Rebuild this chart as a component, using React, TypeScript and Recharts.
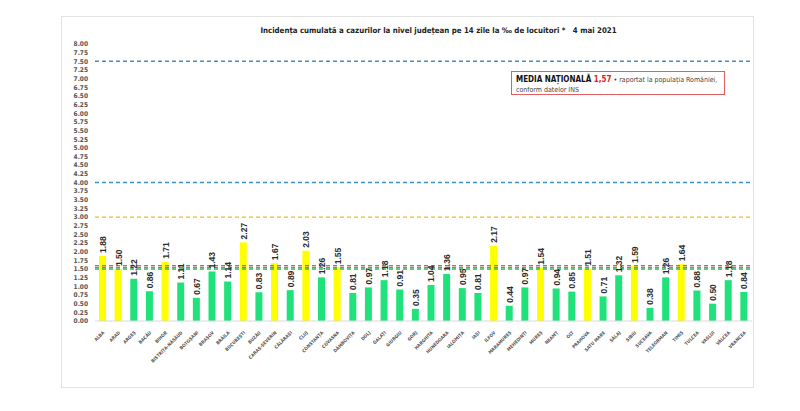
import React from "react";
import {
  BarChart,
  Bar,
  XAxis,
  YAxis,
  Cell,
  LabelList,
  ReferenceLine,
} from "recharts";

const counties = [
  "ALBA", "ARAD", "ARGEȘ", "BACĂU", "BIHOR", "BISTRIȚA-NĂSĂUD", "BOTOȘANI",
  "BRAȘOV", "BRĂILA", "BUCUREȘTI", "BUZĂU", "CARAȘ-SEVERIN", "CĂLĂRAȘI", "CLUJ",
  "CONSTANȚA", "COVASNA", "DÂMBOVIȚA", "DOLJ", "GALAȚI", "GIURGIU", "GORJ",
  "HARGHITA", "HUNEDOARA", "IALOMIȚA", "IAȘI", "ILFOV", "MARAMUREȘ", "MEHEDINȚI",
  "MUREȘ", "NEAMȚ", "OLT", "PRAHOVA", "SATU MARE", "SĂLAJ", "SIBIU", "SUCEAVA",
  "TELEORMAN", "TIMIȘ", "TULCEA", "VASLUI", "VÂLCEA", "VRANCEA",
];

const incidence = [
  1.88, 1.5, 1.22, 0.86, 1.71, 1.11, 0.67, 1.43, 1.14, 2.27, 0.83, 1.67, 0.89,
  2.03, 1.26, 1.55, 0.81, 0.97, 1.18, 0.91, 0.35, 1.04, 1.36, 0.95, 0.81, 2.17,
  0.44, 0.97, 1.54, 0.94, 0.85, 1.51, 0.71, 1.32, 1.59, 0.38, 1.26, 1.64, 0.88,
  0.5, 1.18, 0.84,
];

const yTicks = Array.from({ length: 33 }, (_, i) => i * 0.25);

const thresholds = [
  { y: 7.5, color: "#3f8fc6" },
  { y: 4.0, color: "#3f8fc6" },
  { y: 3.0, color: "#f5b62e" },
  { y: 1.6, color: "#e05a5a" },
  { y: 1.55, color: "#888888" },
  { y: 1.5, color: "#2fb84e" },
];

const YELLOW = "#ffff00";
const GREEN = "#1fe27a";
const FONT = '"Liberation Sans Narrow", "DejaVu Sans Condensed", "Liberation Sans", sans-serif';

const data = counties.map((name, i) => ({ name, value: incidence[i] }));

const CountyTick = (props: any) => {
  const { x, y, payload } = props;
  return (
    <text
      x={x + 2}
      y={y + 4}
      transform={`rotate(-45, ${x + 2}, ${y + 4})`}
      textAnchor="end"
      fontSize={4.6}
      fontWeight={700}
      fill="#555"
      fontFamily={FONT}
    >
      {payload.value}
    </text>
  );
};

const ValueLabel = (props: any) => {
  const { x, y, width, value } = props;
  const cx = x + width / 2 + 0.5;
  const ty = y - 3;
  return (
    <text
      x={cx}
      y={ty}
      transform={`rotate(-90, ${cx}, ${ty})`}
      textAnchor="start"
      dominantBaseline="central"
      fontSize={8.5}
      fontWeight={700}
      fill="#2b2b2b"
      fontFamily='"Liberation Sans", sans-serif'
    >
      {Number(value).toFixed(2)}
    </text>
  );
};

export default function App() {
  return (
    <div style={{ position: "absolute", left: 0, top: 0, width: 800, height: 411, background: "#fff" }}>
      <div
        style={{
          position: "absolute",
          left: 61,
          top: 16,
          width: 691,
          height: 370,
          border: "1px solid #e3e3e3",
        }}
      />
      <div
        style={{
          position: "absolute",
          left: 0,
          width: 877,
          top: 26,
          textAlign: "center",
          fontFamily: FONT,
          fontWeight: 700,
          fontSize: 7.8,
          color: "#222",
          whiteSpace: "pre",
        }}
      >
        {"Incidența cumulată a cazurilor la nivel județean pe 14 zile la ‰ de locuitori *   4 mai 2021"}
      </div>
      <div
        style={{
          position: "absolute",
          left: 511,
          top: 71,
          width: 214,
          height: 24,
          border: "1px solid #e06060",
          fontFamily: FONT,
          fontSize: 7,
          color: "#444",
          padding: "3px 0 0 4px",
          boxSizing: "border-box",
          lineHeight: "9.5px",
        }}
      >
        <span style={{ fontWeight: 700, color: "#111", fontSize: 8 }}>MEDIA NAȚIONALĂ </span>
        <span style={{ fontWeight: 700, color: "#e02020", fontSize: 8 }}>1,57</span>
        <span> • raportat la populația României,</span>
        <br />
        <span>conform datelor INS</span>
      </div>
      <BarChart
        width={800}
        height={411}
        data={data}
        margin={{ top: 44, right: 48, bottom: 0, left: 0 }}
        style={{ position: "absolute", left: 0, top: 0 }}
      >
        <YAxis
          type="number"
          domain={[0, 8]}
          ticks={yTicks}
          interval={0}
          width={95}
          axisLine={false}
          tickLine={false}
          tickSize={3}
          tickMargin={4}
          tickFormatter={(v: number) => v.toFixed(2)}
          tick={{ fontSize: 6.5, fontWeight: 700, fill: "#555", fontFamily: FONT }}
        />
        <XAxis
          dataKey="name"
          interval={0}
          height={90}
          axisLine={{ stroke: "#d9d9d9" }}
          tickLine={false}
          tick={<CountyTick />}
        />
        {thresholds.map((t) => (
          <ReferenceLine
            key={t.y}
            y={t.y}
            stroke={t.color}
            strokeWidth={1.4}
            strokeDasharray="4 3"
          />
        ))}
        <Bar dataKey="value" barSize={7} isAnimationActive={false}>
          {data.map((d) => (
            <Cell key={d.name} fill={d.value >= 1.5 ? YELLOW : GREEN} />
          ))}
          <LabelList dataKey="value" content={<ValueLabel />} />
        </Bar>
      </BarChart>
    </div>
  );
}
